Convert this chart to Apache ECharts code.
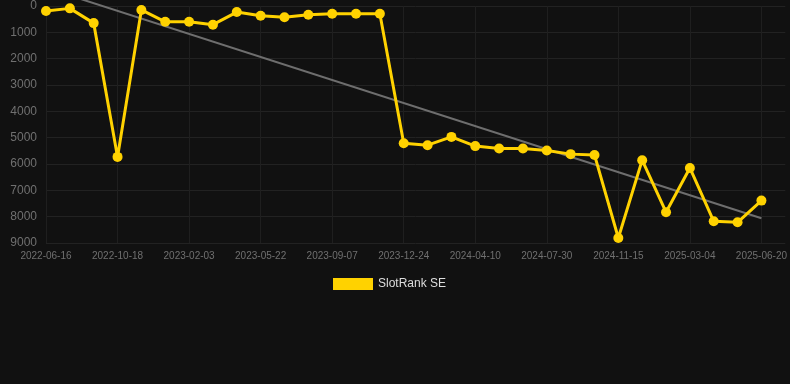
<!DOCTYPE html>
<html>
<head>
<meta charset="utf-8">
<style>
html,body{margin:0;padding:0;background:#111111;}
#chart{width:790px;height:384px;}
</style>
<script src="https://cdn.jsdelivr.net/npm/echarts@6/dist/echarts.min.js"></script>
</head>
<body>
<div id="chart"></div>
<script>
var categories = [
  '2022-06-16','2022-07-27','2022-09-06','2022-10-18','2022-11-23','2022-12-29',
  '2023-02-03','2023-03-11','2023-04-16','2023-05-22','2023-06-27','2023-08-02',
  '2023-09-07','2023-10-13','2023-11-18','2023-12-24','2024-01-29','2024-03-05',
  '2024-04-10','2024-05-17','2024-06-23','2024-07-30','2024-09-05','2024-10-11',
  '2024-11-15','2024-12-21','2025-01-26','2025-03-04','2025-04-09','2025-05-15',
  '2025-06-20'
];
var rankValues = [
  190, 90, 650, 5730, 150, 600, 600, 710, 230, 370, 430, 330,
  295, 295, 295, 5210, 5285, 4970, 5320, 5410, 5410, 5485, 5625, 5655,
  8810, 5855, 7830, 6150, 8175, 8215, 7390
];
var trendStart = -690;
var trendEnd = 8060;
var yTicks = [0, 1000, 2000, 3000, 4000, 5000, 6000, 7000, 8000, 9000];

var chart = echarts.init(document.getElementById('chart'));
chart.setOption({
  backgroundColor: '#111111',
  animation: false,
  grid: {left: 46, right: 4, top: 6, bottom: 141},
  legend: {
    data: ['SlotRank SE'],
    left: 328, top: 273,
    icon: 'rect', itemWidth: 40, itemHeight: 12, itemGap: 10,
    textStyle: {color: '#dddddd', fontSize: 12, fontFamily: 'Liberation Sans, Arial, sans-serif'}
  },
  xAxis: {
    type: 'category',
    data: categories,
    boundaryGap: false,
    max: categories.length,
    axisLine: {show: false},
    axisTick: {show: false},
    axisLabel: {interval: 2, color: '#707070', fontSize: 10, margin: 8,
      fontFamily: 'Liberation Sans, Arial, sans-serif'},
    splitLine: {show: true, interval: 2, lineStyle: {color: '#1f1f1f', width: 1}}
  },
  yAxis: {
    type: 'value',
    inverse: true,
    min: yTicks[0], max: yTicks[yTicks.length - 1], interval: 1000,
    axisLine: {show: false},
    axisTick: {show: false},
    axisLabel: {color: '#707070', fontSize: 12, margin: 9,
      fontFamily: 'Liberation Sans, Arial, sans-serif',
      formatter: function (v) { return String(v); }},
    splitLine: {show: true, lineStyle: {color: '#222222', width: 1}}
  },
  series: [
    {
      name: 'Trend',
      type: 'line',
      data: [[0, trendStart], [categories.length - 1, trendEnd]],
      clip: false,
      symbol: 'none',
      silent: true,
      lineStyle: {color: '#6e6e6e', width: 2},
      z: 1
    },
    {
      name: 'SlotRank SE',
      type: 'line',
      data: rankValues,
      symbol: 'circle',
      symbolSize: 10,
      itemStyle: {color: '#FFD200'},
      lineStyle: {color: '#FFD200', width: 3},
      z: 2
    }
  ]
});
</script>
</body>
</html>
